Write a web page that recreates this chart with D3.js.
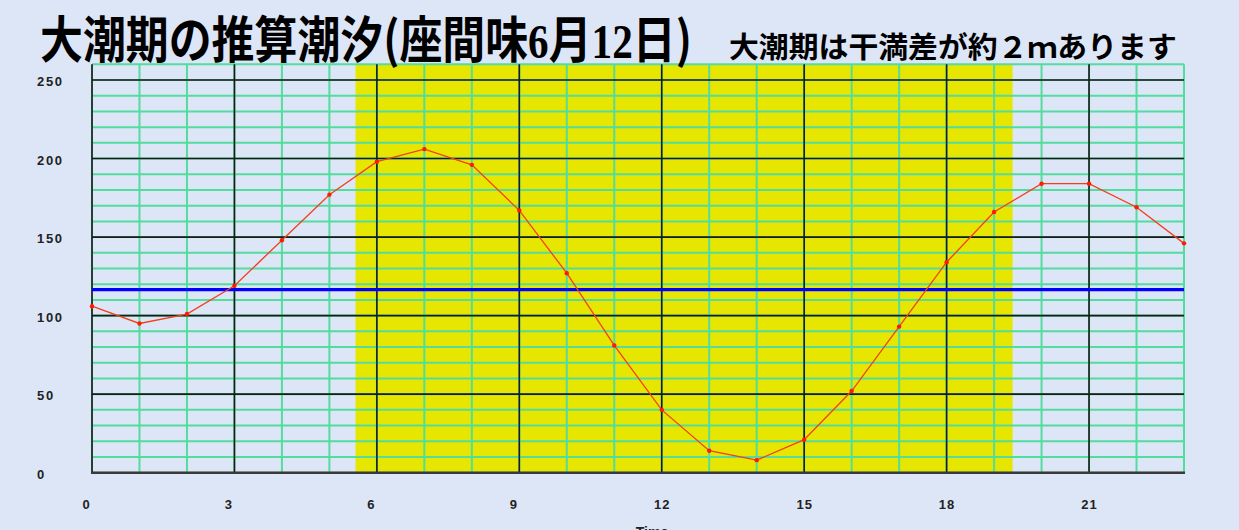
<!DOCTYPE html>
<html>
<head>
<meta charset="utf-8">
<script src="https://cdn.jsdelivr.net/npm/d3@7"></script>
<style>
  html, body { margin: 0; padding: 0; background: #dde6f7; overflow: hidden; }
  svg { display: block; }
</style>
</head>
<body>
<svg id="chart" width="1239" height="530"></svg>
<script>
// ---- data ----
const hours = [0,1,2,3,4,5,6,7,8,9,10,11,12,13,14,15,16,17,18,19,20,21,22,23];
const tide  = [106,95,101,119,148,177,198,206,196,167,127,81,40,14,8,21,52,93,134,166,184,184,169,146];
const meanLevel = 116.6;
const daylight = [5.55, 19.39];       // sunrise / sunset (hours)
const xTickLabels = [0,3,6,9,12,15,18,21];
const yTickLabels = [0,50,100,150,200,250];
const yMax = 260;
const titleMain = ["大潮期の推算潮汐(座間味", "6", "月", "12", "日)"];
const subtitle = "大潮期は干満差が約２ｍあります";
const xAxisTitle = "Time";

// ---- layout ----
const svg = d3.select("#chart");
const L = 92, R = 1184, T = 64.3, B = 472.7;
const x = d3.scaleLinear().domain([0, 23]).range([L, R]);
const y = d3.scaleLinear().domain([0, yMax]).range([B, T]);

svg.append("rect").attr("width", 1239).attr("height", 530).attr("fill", "#dde6f7");

// daylight band
svg.append("rect")
  .attr("x", x(daylight[0])).attr("y", y(yMax))
  .attr("width", x(daylight[1]) - x(daylight[0]))
  .attr("height", y(0) - y(yMax))
  .attr("fill", "#e6e600");

// minor grid (green)
const minorY = d3.range(0, yMax + 1, 10);
const g = svg.append("g");
g.selectAll("line.mh").data(minorY).join("line")
  .attr("x1", x(0)).attr("x2", x(23))
  .attr("y1", d => y(d)).attr("y2", d => y(d))
  .attr("stroke", "#52dc9e").attr("stroke-width", 2);
g.selectAll("line.mv").data(hours).join("line")
  .attr("y1", y(0)).attr("y2", y(yMax))
  .attr("x1", d => x(d)).attr("x2", d => x(d))
  .attr("stroke", "#52dc9e").attr("stroke-width", 2);

// major grid (black)
g.selectAll("line.Mh").data(yTickLabels).join("line")
  .attr("x1", x(0)).attr("x2", x(23))
  .attr("y1", d => y(d)).attr("y2", d => y(d))
  .attr("stroke", "#1a1a1a").attr("stroke-width", 1.6);
g.selectAll("line.Mv").data(xTickLabels).join("line")
  .attr("y1", y(0)).attr("y2", y(yMax))
  .attr("x1", d => x(d)).attr("x2", d => x(d))
  .attr("stroke", "#1a1a1a").attr("stroke-width", 1.6);

// bottom axis line
svg.append("line")
  .attr("x1", x(0) - 1).attr("x2", x(23) + 1)
  .attr("y1", y(0)).attr("y2", y(0))
  .attr("stroke", "#3a3a3a").attr("stroke-width", 2.5);

// mean level (blue)
svg.append("line")
  .attr("x1", x(0)).attr("x2", x(23))
  .attr("y1", y(meanLevel)).attr("y2", y(meanLevel))
  .attr("stroke", "#0000ff").attr("stroke-width", 3.2);

// tide line
const line = d3.line().x((d, i) => x(hours[i])).y(d => y(d));
svg.append("path").datum(tide)
  .attr("d", line).attr("fill", "none")
  .attr("stroke", "#f2401c").attr("stroke-width", 1.3);
svg.selectAll("circle.pt").data(tide).join("circle")
  .attr("cx", (d, i) => x(hours[i])).attr("cy", d => y(d))
  .attr("r", 2.2).attr("fill", "#ff1a00");

// axes labels
const labelFont = "'Liberation Sans', Arial, sans-serif";
const yAxis = svg.append("g").attr("transform", `translate(${L},0)`)
  .call(d3.axisLeft(y).tickValues(yTickLabels).tickSize(0).tickFormat(d3.format("d")));
yAxis.select(".domain").remove();
yAxis.selectAll("text")
  .attr("x", 37 - L).attr("dy", "0.42em")
  .attr("text-anchor", "start")
  .attr("font-family", labelFont).attr("font-weight", "bold")
  .attr("font-size", 13).attr("letter-spacing", 1.7).attr("fill", "#222");

const xAxis = svg.append("g").attr("transform", `translate(0,${B})`)
  .call(d3.axisBottom(x).tickValues(xTickLabels).tickSize(0).tickFormat(d3.format("d")));
xAxis.select(".domain").remove();
xAxis.selectAll("text")
  .attr("y", 32).attr("dy", "0.36em")
  .attr("dx", d => (d < 10 ? -6 : 0))
  .attr("font-family", labelFont).attr("font-weight", "bold")
  .attr("font-size", 13).attr("letter-spacing", 1).attr("fill", "#222");

svg.append("text")
  .attr("x", 652).attr("y", 537).attr("text-anchor", "middle")
  .attr("font-family", labelFont).attr("font-weight", "bold")
  .attr("font-size", 14).attr("fill", "#222")
  .text(xAxisTitle);

// titles
const cjk = "'Noto Sans CJK JP', 'Noto Sans', sans-serif";
const serif = "'Liberation Serif', 'DejaVu Serif', serif";
const tg = svg.append("g");
const t = tg.append("text")
  .attr("x", 0).attr("y", 0)
  .attr("font-family", cjk).attr("font-weight", 700)
  .attr("font-size", 50).attr("fill", "#000");
titleMain.forEach((s, i) => {
  t.append("tspan")
    .attr("font-family", (i === 1 || i === 3) ? serif : cjk)
    .attr("font-size", (i === 1 || i === 3) ? 48 : 50)
    .text(s);
});
const tw = t.node().getComputedTextLength();
tg.attr("transform", `translate(40,58) scale(${652 / tw},1)`);

const sg = svg.append("g");
const st = sg.append("text")
  .attr("x", 0).attr("y", 0)
  .attr("font-family", cjk).attr("font-weight", 700)
  .attr("font-size", 29).attr("fill", "#000")
  .text(subtitle);
const sw = st.node().getComputedTextLength();
sg.attr("transform", `translate(729,58) scale(${448 / sw},1)`);
</script>
</body>
</html>
